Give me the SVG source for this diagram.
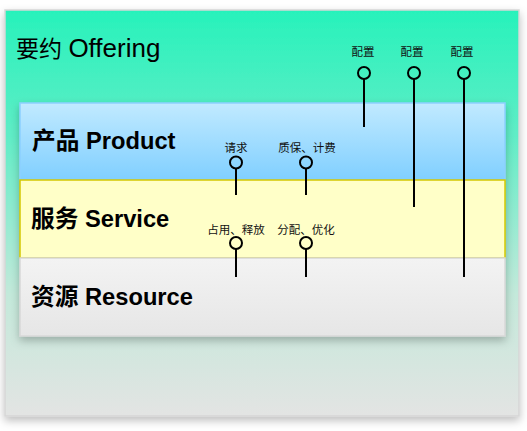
<svg xmlns="http://www.w3.org/2000/svg" width="527" height="431" viewBox="0 0 527 431">
<style>
text{font-family:"Liberation Sans","Noto Sans CJK SC",sans-serif;fill:#000}
.layer{font-size:23.7px;font-weight:bold}
.lbl{font-size:11.5px;text-anchor:middle;fill:#111}
.stem{stroke:#000;stroke-width:2;fill:none}
.ring{stroke:#000;stroke-width:2;fill:none}
</style>
<defs>
<linearGradient id="gOuter" x1="0" y1="0" x2="0" y2="1">
<stop offset="0" stop-color="#27f2bb"/>
<stop offset="0.3" stop-color="#5eedc6"/>
<stop offset="0.7" stop-color="#c3e9da"/>
<stop offset="1" stop-color="#e3e4e3"/>
</linearGradient>
<linearGradient id="gProd" x1="0" y1="0" x2="0" y2="1">
<stop offset="0" stop-color="#c1eaff"/>
<stop offset="1" stop-color="#80cfff"/>
</linearGradient>
<linearGradient id="gRes" x1="0" y1="0" x2="0" y2="1">
<stop offset="0" stop-color="#f3f3f3"/>
<stop offset="1" stop-color="#e6e6e6"/>
</linearGradient>
<filter id="sh" x="-10%" y="-10%" width="120%" height="130%">
<feDropShadow dx="0" dy="4" stdDeviation="4" flood-color="#000" flood-opacity="0.25"/>
</filter>
</defs>
<g id="offering">
<rect x="5" y="10" width="514" height="406" fill="url(#gOuter)" stroke="#d6d6d6" stroke-width="1.5" filter="url(#sh)"/>
<text x="16" y="57" font-size="23">要约 <tspan font-size="26">Offering</tspan></text>
</g>
<g id="layers" filter="url(#sh)">
<g id="product">
<rect x="20" y="103" width="485" height="77" fill="url(#gProd)" stroke="#8ccfff" stroke-width="1.5"/>
</g>
<g id="service">
<rect x="20" y="180" width="485" height="78" fill="#ffffc8" stroke="#d4c800" stroke-width="1.5"/>
</g>
<g id="resource">
<rect x="20" y="258" width="485" height="78" fill="url(#gRes)" stroke="#d8d8d8" stroke-width="1.5"/>
</g>
</g>
<text class="layer" x="32" y="149">产品 Product</text>
<text class="layer" x="31" y="227">服务 Service</text>
<text class="layer" x="31" y="305">资源 Resource</text>
<g id="connectors">
<circle class="ring" cx="364" cy="73" r="6"/>
<line class="stem" x1="364" y1="79" x2="364" y2="127"/>
<circle class="ring" cx="414" cy="73" r="6"/>
<line class="stem" x1="414" y1="79" x2="414" y2="207"/>
<circle class="ring" cx="464" cy="73" r="6"/>
<line class="stem" x1="464" y1="79" x2="464" y2="277"/>
<circle class="ring" cx="236" cy="162.5" r="6"/>
<line class="stem" x1="236" y1="168.5" x2="236" y2="195"/>
<circle class="ring" cx="306" cy="162.5" r="6"/>
<line class="stem" x1="306" y1="168.5" x2="306" y2="195"/>
<circle class="ring" cx="236" cy="243" r="6"/>
<line class="stem" x1="236" y1="249" x2="236" y2="277"/>
<circle class="ring" cx="306" cy="243" r="6"/>
<line class="stem" x1="306" y1="249" x2="306" y2="277"/>
<text class="lbl" x="363" y="56">配置</text>
<text class="lbl" x="412" y="56">配置</text>
<text class="lbl" x="462" y="56">配置</text>
<text class="lbl" x="236" y="152">请求</text>
<text class="lbl" x="307" y="152">质保、计费</text>
<text class="lbl" x="236" y="234">占用、释放</text>
<text class="lbl" x="306" y="234">分配、优化</text>
</g>
</svg>
